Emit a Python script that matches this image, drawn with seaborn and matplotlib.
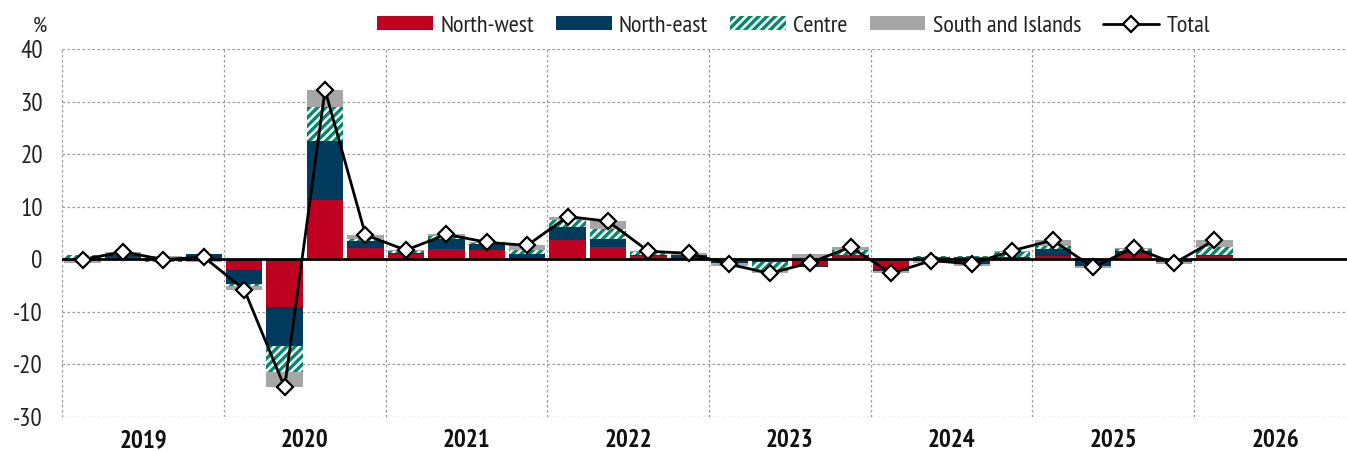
import numpy as np
import pandas as pd
import matplotlib
matplotlib.use("Agg")
import matplotlib.pyplot as plt
import seaborn as sns
from matplotlib.patches import Patch
from matplotlib.lines import Line2D
from matplotlib import font_manager as fm

years = ["2019", "2020", "2021", "2022", "2023", "2024", "2025", "2026"]
quarters = [f"{y}Q{q}" for y in years for q in range(1, 5)][:29]

north_west = [-0.3, 0.4, 0.1, -0.4, -2.1, -9.2, 11.2, 2.1,
              1.0, 1.9, 1.7, 0.2, 3.6, 2.3, 0.6, 0.2,
              -0.2, -0.2, -1.3, 0.7, -1.9, 0.4, 0.4, 0.1,
              0.6, -0.1, 1.0, 0.1, 0.6]
north_east = [0.1, 0.3, 0.1, 0.9, -2.7, -7.4, 11.2, 1.4,
              0.1, 1.9, 1.2, 0.8, 2.6, 1.6, 0.1, 0.5,
              -0.6, -0.4, -0.3, 0.1, -0.4, -0.3, -0.9, 0.3,
              1.3, -1.3, 0.5, -0.5, 0.1]
centre = [0.6, 0.2, -0.6, 0.1, -0.4, -4.8, 6.6, 0.4,
          0.4, 0.6, 0.1, 0.8, 1.3, 1.8, 0.6, 0.1,
          0.3, -1.7, 0.2, 0.9, 0.0, 0.1, 0.1, 1.0,
          0.6, 0.1, 0.5, 0.0, 1.6]
south_islands = [-0.5, 0.5, 0.3, -0.2, -0.6, -3.0, 3.2, 0.7,
                 0.2, 0.3, 0.2, 0.8, 0.6, 1.5, 0.2, 0.3,
                 -0.5, -0.4, 0.7, 0.6, -0.4, -0.5, -0.5, 0.2,
                 1.1, -0.3, 0.2, -0.4, 1.3]
total = [-0.1, 1.4, -0.1, 0.4, -5.8, -24.4, 32.2, 4.6,
         1.7, 4.7, 3.2, 2.6, 8.1, 7.2, 1.5, 1.1,
         -1.0, -2.7, -0.7, 2.3, -2.7, -0.3, -0.9, 1.6,
         3.6, -1.6, 2.2, -0.8, 3.6]

series_names = ["North-west", "North-east", "Centre", "South and Islands"]
series_vals = [north_west, north_east, centre, south_islands]

C_NW = "#C00020"
C_NE = "#003A5D"
C_CE = "#00896A"
C_SI = "#A6A6A6"

# pick a narrow font similar to Arial Narrow, if one is installed
_entries = {}
for f in fm.fontManager.ttflist:
    _entries.setdefault(f.name, []).append(f)
preferred = ["Liberation Sans Narrow", "Arial Narrow", "Archivo Narrow", "PT Sans Narrow",
             "Pragati Narrow", "IBM Plex Sans Condensed", "Roboto Condensed",
             "Fira Sans Condensed", "Barlow Semi Condensed", "Open Sans Condensed"]
narrow = None
for n in preferred:
    if n in _entries:
        if any(str(e.weight) in ("bold", "700") or (isinstance(e.weight, int) and e.weight >= 700)
               for e in _entries[n]):
            narrow = n
            break
if narrow is None:
    for n in preferred:
        if n in _entries:
            narrow = n
            break

sns.set_theme(style="white")
fam = ([narrow] if narrow else []) + ["Liberation Sans", "DejaVu Sans"]
plt.rcParams["font.family"] = fam
plt.rcParams["hatch.linewidth"] = 2.4

fig = plt.figure(figsize=(13.47, 4.51), dpi=100)
ax = fig.add_axes([62.3 / 1347, 0.0761, 1 - 62.3 / 1347, 0.8914 - 0.0761])

x = np.arange(len(quarters))
pos_base = np.zeros(len(x))
neg_base = np.zeros(len(x))
width = 0.9
styles = [
    dict(color=C_NW, linewidth=0),
    dict(color=C_NE, linewidth=0),
    dict(facecolor="white", edgecolor=C_CE, hatch="////", linewidth=0),
    dict(color=C_SI, linewidth=0),
]
for vals, st in zip(series_vals, styles):
    v = np.array(vals, dtype=float)
    pos = np.where(v > 0, v, 0)
    neg = np.where(v < 0, v, 0)
    ax.bar(x, pos, width=width, bottom=pos_base, zorder=2, **st)
    ax.bar(x, neg, width=width, bottom=neg_base, zorder=2, **st)
    pos_base += pos
    neg_base += neg

ax.axhline(0, color="black", linewidth=2, zorder=3)

df = pd.DataFrame({"x": x, "total": total})
sns.lineplot(data=df, x="x", y="total", ax=ax, color="black", linewidth=2,
             marker="D", markersize=8.5, markerfacecolor="white",
             markeredgecolor="black", markeredgewidth=1.6, zorder=4, legend=False)

ax.set_xlim(-0.5, 31.28)
ax.set_ylim(-30, 40)
ax.set_yticks(np.arange(-30, 41, 10))
ax.set_yticklabels([str(v) for v in range(-30, 41, 10)], fontsize=18, color="#222222")
for s in ax.spines.values():
    s.set_visible(False)

grid_kw = dict(color="#9A9A9A", linestyle=(0, (2, 2)), linewidth=0.9, zorder=0)
for yv in range(-30, 41, 10):
    if yv != 0:
        ax.axhline(yv, **grid_kw)
for i in range(8):
    ax.axvline(-0.5 + 4 * i, **grid_kw)

ax.set_xticks([1.5 + 4 * i for i in range(8)])
ax.set_xticklabels(years, fontsize=18, fontweight="bold", color="#111111")
ax.tick_params(axis="both", length=0)
ax.tick_params(axis="y", pad=14)
ax.tick_params(axis="x", pad=9)
ax.set_xlabel("")
ax.set_ylabel("")
ax.grid(False)

fig.text(40 / 1347, 1 - 26 / 451, "%", fontsize=16, ha="center", va="center", color="#222222")

handles = [
    Patch(facecolor=C_NW, edgecolor="none"),
    Patch(facecolor=C_NE, edgecolor="none"),
    Patch(facecolor="white", edgecolor=C_CE, hatch="////", linewidth=0),
    Patch(facecolor=C_SI, edgecolor="none"),
    Line2D([0], [0], color="black", linewidth=2, marker="D", markersize=8.5,
           markerfacecolor="white", markeredgecolor="black", markeredgewidth=1.6),
]
fig.legend(handles, series_names + ["Total"], loc="center", bbox_to_anchor=(0.589, 1 - 26 / 451),
           ncol=5, frameon=False, fontsize=17.5, handlelength=2.3, handleheight=0.5,
           columnspacing=0.9, handletextpad=0.3, labelcolor="#222222")

fig.savefig("out.png", dpi=100)
